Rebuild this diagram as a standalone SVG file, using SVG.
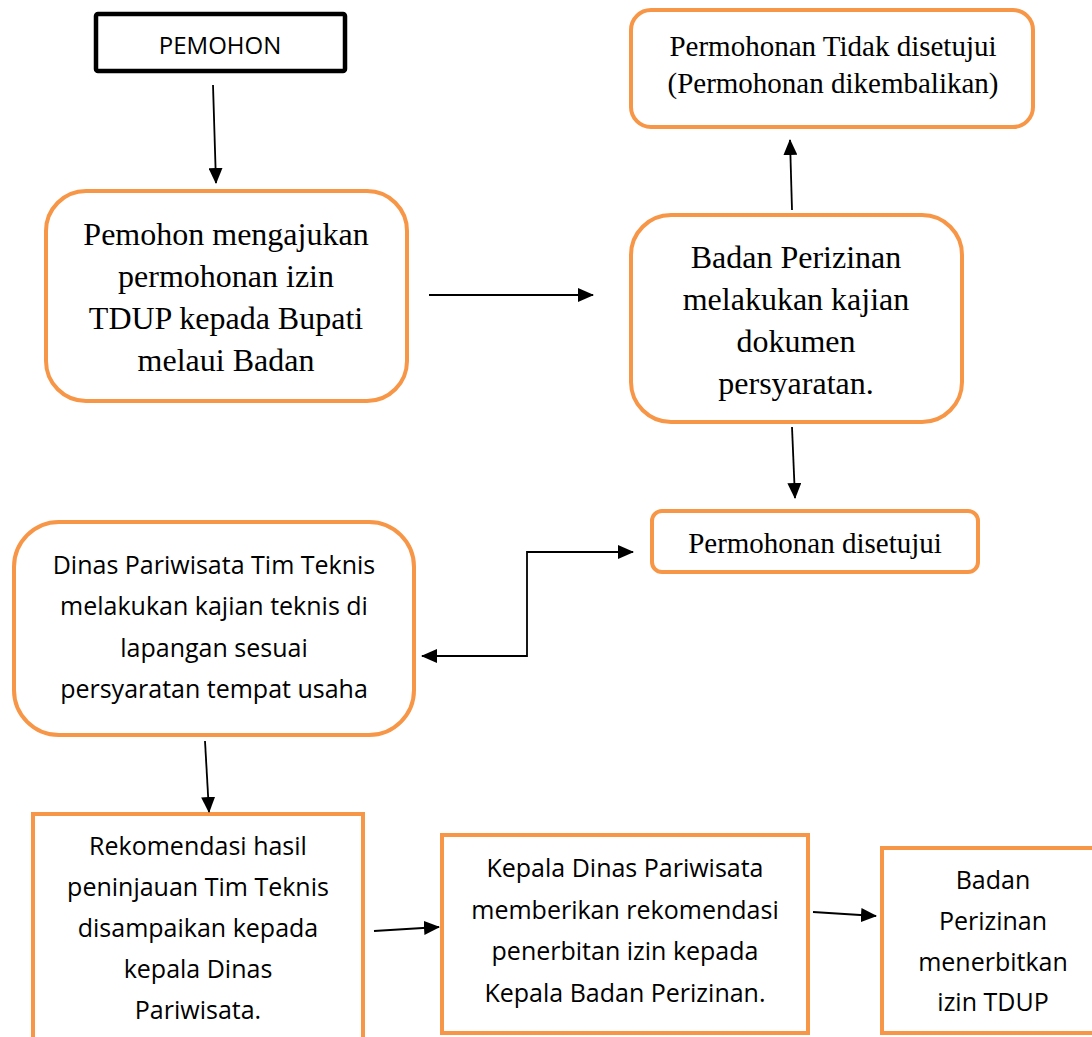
<svg xmlns="http://www.w3.org/2000/svg" width="1092" height="1037" viewBox="0 0 1092 1037">
<defs>
<style>
.box{fill:#fff;stroke:#F79646;stroke-width:4}
.blk{fill:#fff;stroke:#000;stroke-width:4.5}
.serif{font-family:"Liberation Serif","Times New Roman",serif;fill:#000;text-anchor:middle}
.s32{font-size:32px}
.s29{font-size:29px}
.sans{font-family:"Open Sans","Noto Sans",sans-serif;font-size:25px;fill:#000;text-anchor:middle}
.conn{fill:none;stroke:#000;stroke-width:1.8}
</style>
<marker id="ah" markerUnits="userSpaceOnUse" markerWidth="16" markerHeight="14" refX="15" refY="7" orient="auto-start-reverse" viewBox="0 0 16 14">
<path d="M0,0 L16,7 L0,14 z" fill="#000"/>
</marker>
</defs>
<rect width="1092" height="1037" fill="#fff"/>

<g id="pemohon">
<rect class="blk" x="96" y="14" width="249" height="57" rx="2"/>
<text class="sans" x="220" y="54" style="font-size:24px">PEMOHON</text>
</g>

<g id="ajukan">
<rect class="box" x="46" y="191" width="361" height="210" rx="40"/>
<text class="serif s32" x="226" y="245">Pemohon mengajukan</text>
<text class="serif s32" x="226" y="287">permohonan izin</text>
<text class="serif s32" x="226" y="329">TDUP kepada Bupati</text>
<text class="serif s32" x="226" y="371">melaui Badan</text>
</g>

<g id="tidak">
<rect class="box" x="631" y="10" width="402" height="117" rx="20"/>
<text class="serif s29" x="833" y="56">Permohonan Tidak disetujui</text>
<text class="serif s29" x="833" y="93">(Permohonan dikembalikan)</text>
</g>

<g id="kajian">
<rect class="box" x="631" y="215" width="331" height="207" rx="40"/>
<text class="serif s32" x="796" y="268">Badan Perizinan</text>
<text class="serif s32" x="796" y="310">melakukan kajian</text>
<text class="serif s32" x="796" y="352">dokumen</text>
<text class="serif s32" x="796" y="394">persyaratan.</text>
</g>

<g id="setuju">
<rect class="box" x="652" y="511" width="326" height="61" rx="10"/>
<text class="serif s29" x="815" y="553">Permohonan disetujui</text>
</g>

<g id="dinas">
<rect class="box" x="14" y="522" width="400" height="213" rx="45"/>
<text class="sans" x="214" y="574">Dinas Pariwisata Tim Teknis</text>
<text class="sans" x="214" y="615">melakukan kajian teknis di</text>
<text class="sans" x="214" y="657">lapangan sesuai</text>
<text class="sans" x="214" y="698">persyaratan tempat usaha</text>
</g>

<g id="rekomendasi">
<rect class="box" x="33" y="814" width="330" height="240"/>
<text class="sans" x="198" y="855">Rekomendasi hasil</text>
<text class="sans" x="198" y="896">peninjauan Tim Teknis</text>
<text class="sans" x="198" y="937">disampaikan kepada</text>
<text class="sans" x="198" y="978">kepala Dinas</text>
<text class="sans" x="198" y="1019">Pariwisata.</text>
</g>

<g id="kepala">
<rect class="box" x="442" y="835" width="366" height="198"/>
<text class="sans" x="625" y="877">Kepala Dinas Pariwisata</text>
<text class="sans" x="625" y="919">memberikan rekomendasi</text>
<text class="sans" x="625" y="960">penerbitan izin kepada</text>
<text class="sans" x="625" y="1002">Kepala Badan Perizinan.</text>
</g>

<g id="terbit">
<rect class="box" x="882" y="848" width="230" height="185"/>
<text class="sans" x="993" y="889">Badan</text>
<text class="sans" x="993" y="930">Perizinan</text>
<text class="sans" x="993" y="971">menerbitkan</text>
<text class="sans" x="993" y="1011">izin TDUP</text>
</g>

<g id="connectors">
<line class="conn" x1="213" y1="85" x2="216" y2="183" marker-end="url(#ah)"/>
<line class="conn" x1="429" y1="295" x2="593" y2="295" marker-end="url(#ah)"/>
<line class="conn" x1="792" y1="210" x2="790" y2="140" marker-end="url(#ah)"/>
<line class="conn" x1="792" y1="427" x2="795" y2="498" marker-end="url(#ah)"/>
<polyline class="conn" points="422,656 527,656 527,552 633,552" marker-start="url(#ah)" marker-end="url(#ah)"/>
<line class="conn" x1="205" y1="741" x2="209" y2="812" marker-end="url(#ah)"/>
<line class="conn" x1="374" y1="931" x2="439" y2="927" marker-end="url(#ah)"/>
<line class="conn" x1="813" y1="912" x2="876" y2="916" marker-end="url(#ah)"/>
</g>
</svg>
